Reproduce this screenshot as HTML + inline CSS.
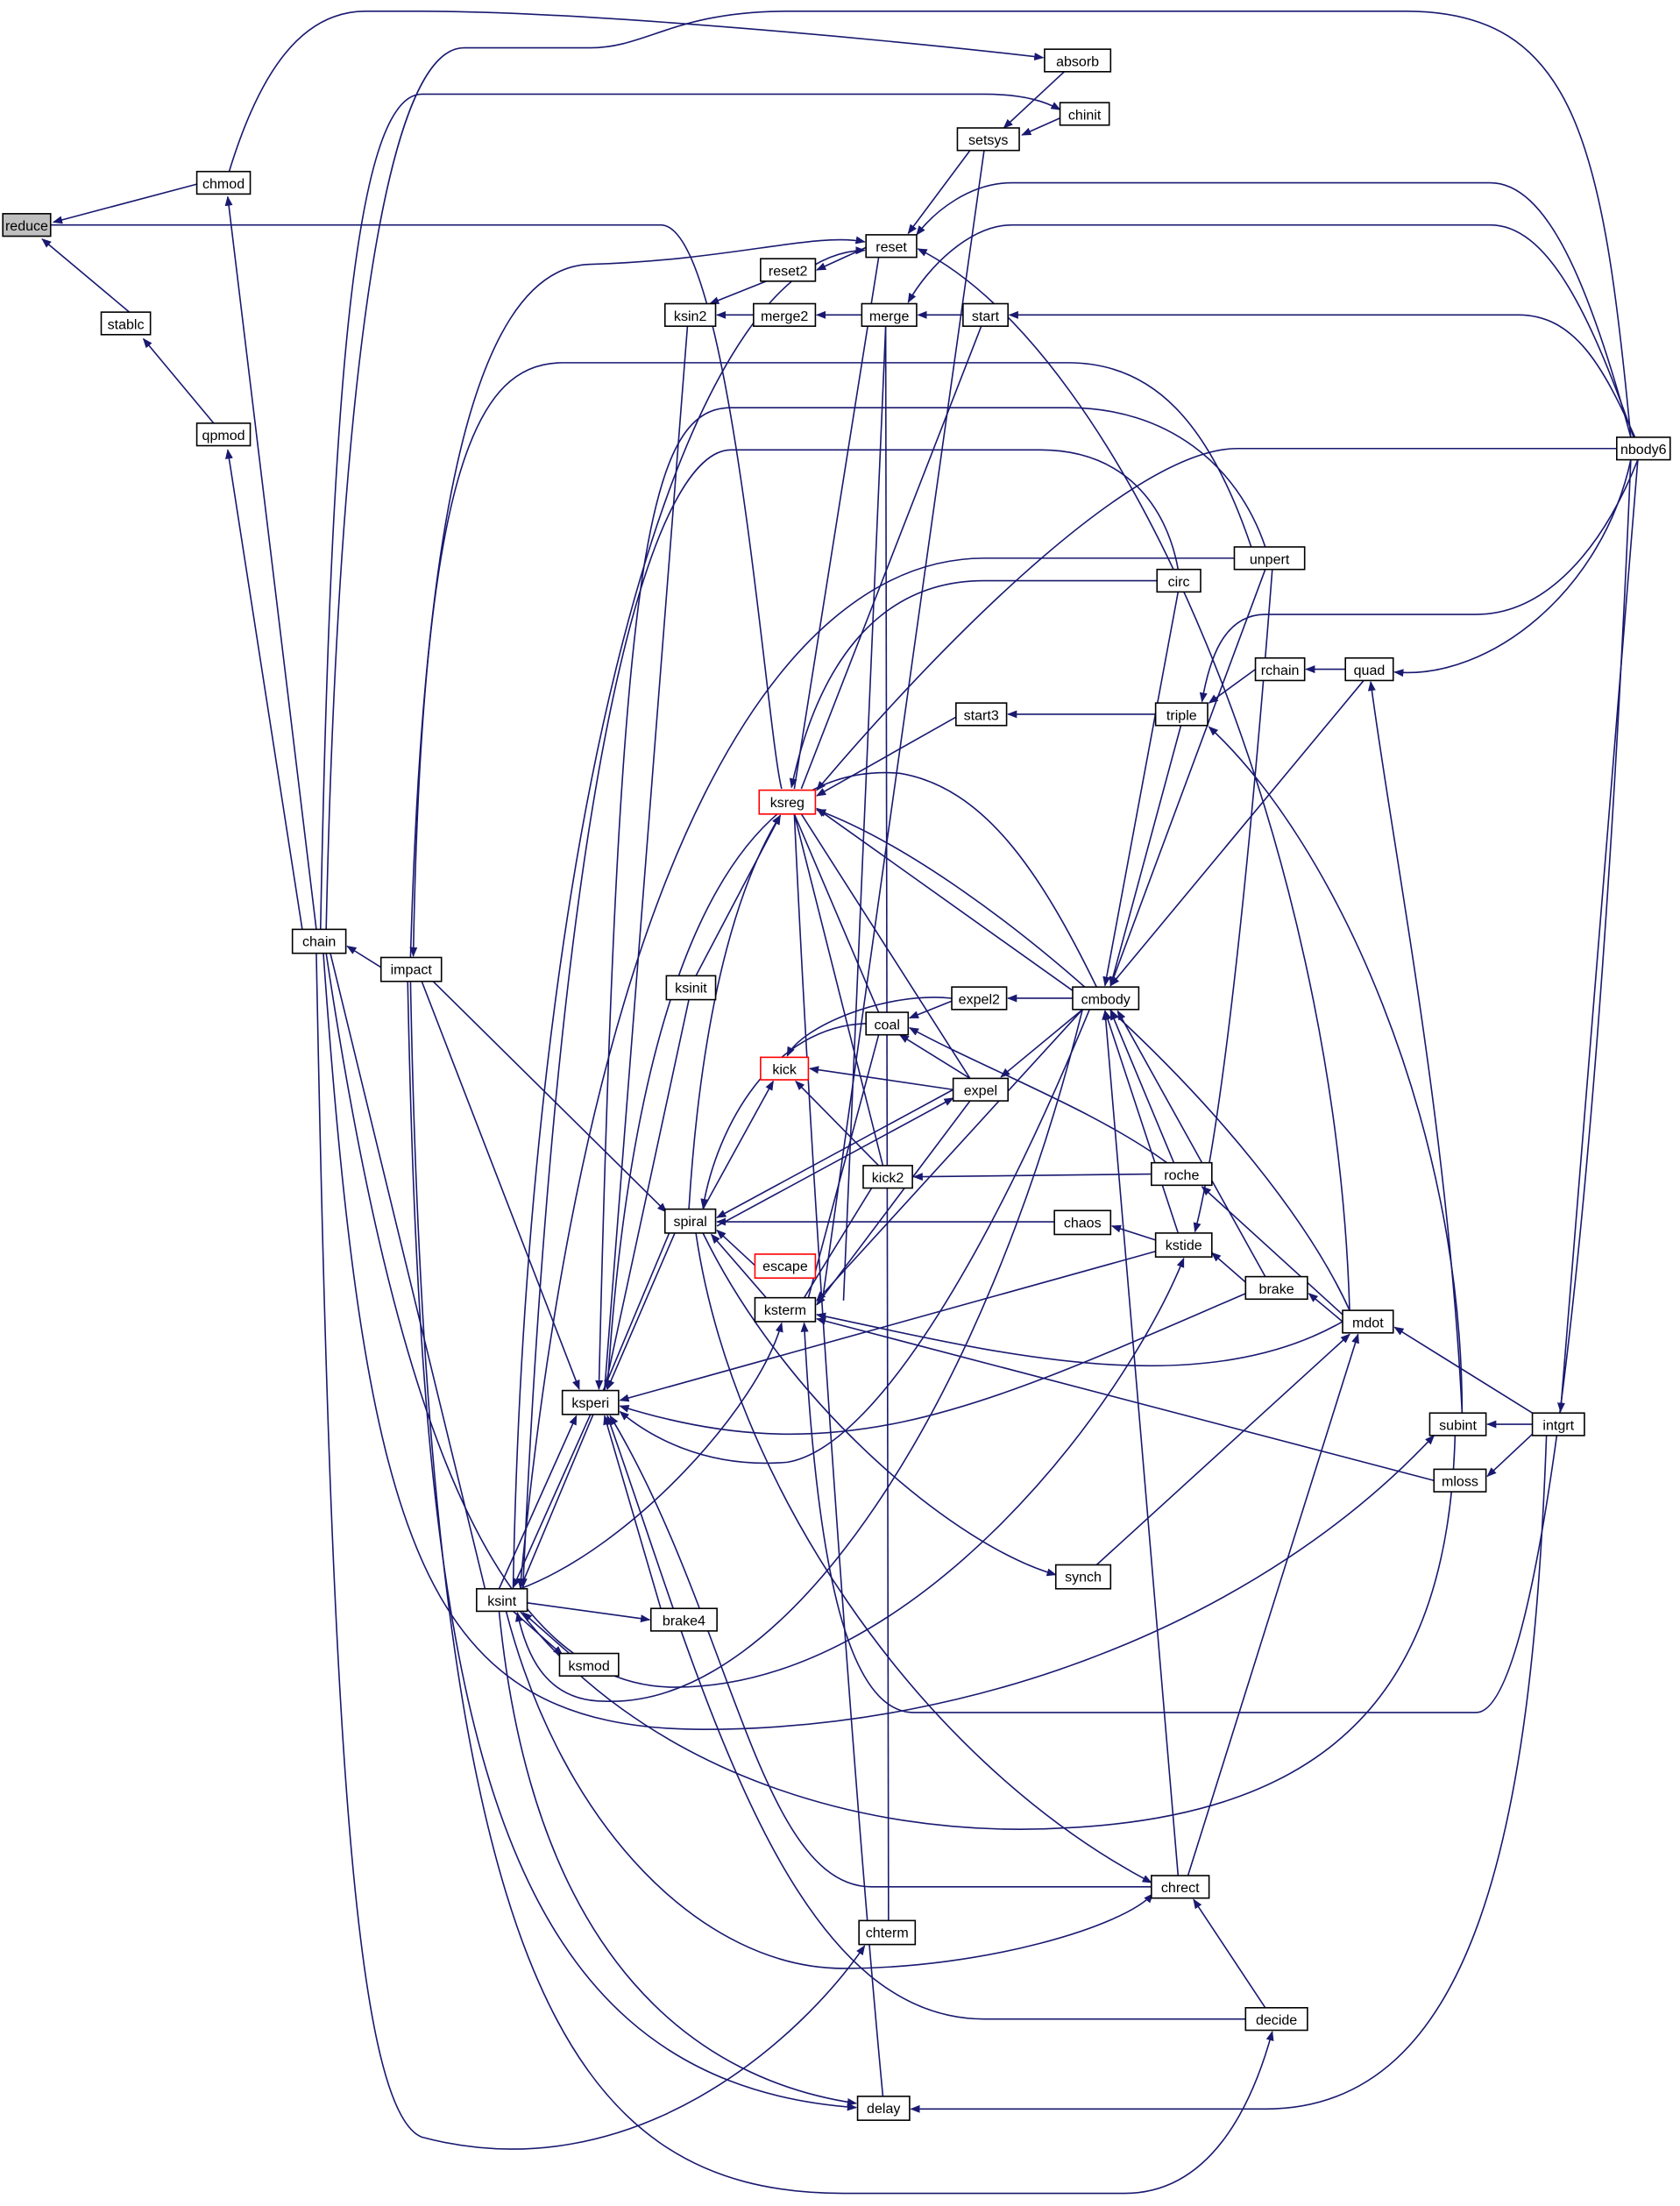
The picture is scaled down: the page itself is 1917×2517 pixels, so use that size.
<!DOCTYPE html>
<html><head><meta charset="utf-8"><style>
html,body{margin:0;padding:0;background:#fff;}
svg{display:block;}
text{font-family:"Liberation Sans",sans-serif;font-size:10px;text-anchor:middle;fill:#000;}
.e{fill:none;stroke:#191970;stroke-width:1;}
.n{fill:#fff;stroke:#000;stroke-width:1;}
</style></head><body>
<svg width="1917" height="2517" viewBox="0 0 1195 1569" preserveAspectRatio="none" xmlns="http://www.w3.org/2000/svg">
<defs><marker id="a" viewBox="0 0 10 10" refX="9" refY="5" markerWidth="7" markerHeight="7" orient="auto"><path d="M0,1 L10,5 L0,9 z" fill="#191970"/></marker></defs>
<g class="e" marker-end="url(#a)">
<path d="M140,131 L38,158"/>
<path d="M92,222 L30,170"/>
<path d="M152,301 L102,241"/>
<path d="M215,661 L162,320"/>
<path d="M225,661 L162,140"/>
<path d="M163,122 C185,50 215,8 260,8 L300,8 C420,8 650,30 742,41"/>
<path d="M757,51 L714,91"/>
<path d="M754,84 L727,96"/>
<path d="M228,661 C235,300 250,67 300,67 L700,67 C730,67 745,73 754,78"/>
<path d="M690,107 L646,166"/>
<path d="M1160,311 C1130,200 1100,130 1060,130 L720,130 C690,130 665,150 652,167"/>
<path d="M1162,311 C1130,220 1100,160 1060,160 L720,160 C690,160 660,190 646,215"/>
<path d="M1163,311 C1140,260 1120,224 1080,224 L718,224"/>
<path d="M685,224 L653,224"/>
<path d="M613,224 L581,224"/>
<path d="M536,224 L510,224"/>
<path d="M616,176 L581,192"/>
<path d="M545,200 L505,216"/>
<path d="M960,932 C950,600 800,250 653,177"/>
<path d="M292,681 C300,400 330,190 420,188 C520,185 580,165 615,172"/>
<path d="M365,1130 C375,600 480,180 615,178"/>
<path d="M890,389 C860,300 820,258 760,258 L400,258 C340,258 300,330 294,680"/>
<path d="M1150,319 L880,319 C800,319 650,480 581,562"/>
<path d="M1165,327 C1140,390 1100,437 1050,437 L900,437 C870,437 860,470 855,499"/>
<path d="M893,476 L860,500"/>
<path d="M957,476 L929,476"/>
<path d="M1160,327 C1140,420 1060,484 992,478"/>
<path d="M822,508 L717,508"/>
<path d="M680,510 L581,566"/>
<path d="M1040,1005 C1040,800 950,600 860,517"/>
<path d="M1040,1005 C1030,800 990,600 975,485"/>
<path d="M970,484 L790,701"/>
<path d="M840,516 L790,701"/>
<path d="M900,405 L790,701"/>
<path d="M905,405 C890,600 870,800 850,876"/>
<path d="M838,421 L786,701"/>
<path d="M765,706 L581,575"/>
<path d="M763,710 L717,710"/>
<path d="M677,712 L647,724"/>
<path d="M677,710 C630,705 570,730 560,751"/>
<path d="M678,775 L576,760"/>
<path d="M770,718 L712,766"/>
<path d="M690,767 L640,736"/>
<path d="M625,829 L566,769"/>
<path d="M819,835 L650,837"/>
<path d="M830,827 C780,790 700,760 647,731"/>
<path d="M835,827 L790,719"/>
<path d="M838,877 L786,719"/>
<path d="M900,908 L795,719"/>
<path d="M838,1334 C820,1100 800,900 786,719"/>
<path d="M960,932 C900,800 700,620 581,576"/>
<path d="M780,702 C740,620 700,560 640,550 C520,540 450,700 432,988"/>
<path d="M750,869 L510,869"/>
<path d="M822,882 L791,872"/>
<path d="M537,900 L510,875"/>
<path d="M545,923 L506,878"/>
<path d="M770,718 L581,925"/>
<path d="M690,783 L581,928"/>
<path d="M955,940 C850,1000 700,960 581,935"/>
<path d="M1020,1053 L581,938"/>
<path d="M822,890 L441,996"/>
<path d="M480,877 L432,988"/>
<path d="M300,690 L474,862"/>
<path d="M300,698 L412,988"/>
<path d="M271,688 L247,673"/>
<path d="M290,698 C300,1200 340,1480 609,1499"/>
<path d="M292,698 C305,1400 400,1560 600,1560 L800,1560 C860,1560 890,1500 905,1445"/>
<path d="M225,678 C235,1200 250,1500 300,1520 C450,1560 570,1450 615,1384"/>
<path d="M230,678 C260,1100 300,1230 500,1230 C700,1230 900,1150 1020,1021"/>
<path d="M232,678 C280,1000 350,1200 480,1200 C650,1200 800,1000 842,895"/>
<path d="M375,1140 L462,1152"/>
<path d="M470,1144 L430,1007"/>
<path d="M405,1176 L372,1147"/>
<path d="M365,1146 L400,1177"/>
<path d="M355,1130 L410,1007"/>
<path d="M420,1006 L365,1129"/>
<path d="M360,1146 C400,1300 500,1400 600,1400 C700,1400 800,1370 820,1347"/>
<path d="M355,1146 C380,1400 500,1480 609,1496"/>
<path d="M370,1130 C450,1100 540,1000 556,941"/>
<path d="M886,1436 L700,1436 C560,1436 500,1200 432,1007"/>
<path d="M819,1342 L620,1342 C540,1342 520,1150 434,1007"/>
<path d="M495,877 C520,1050 650,1250 819,1339"/>
<path d="M500,877 C560,1000 680,1100 751,1120"/>
<path d="M780,1113 L960,949"/>
<path d="M845,1334 L966,949"/>
<path d="M900,1428 L849,1351"/>
<path d="M1100,1021 C1090,1300 1050,1500 900,1500 L648,1500"/>
<path d="M1165,327 L1110,1004"/>
<path d="M1160,327 C1140,800 1100,1218 1050,1218 L650,1218 C600,1218 580,1100 572,941"/>
<path d="M1090,1013 L1058,1013"/>
<path d="M1090,1020 L1058,1050"/>
<path d="M1090,1005 L992,944"/>
<path d="M955,940 L931,920"/>
<path d="M886,912 L862,891"/>
<path d="M955,935 L855,844"/>
<path d="M886,920 C700,1000 600,1050 441,1000"/>
<path d="M678,775 L510,866"/>
<path d="M510,872 L678,781"/>
<path d="M616,728 C550,730 510,800 500,859"/>
<path d="M500,860 L550,769"/>
<path d="M490,860 C500,700 530,620 555,580"/>
<path d="M495,694 L555,580"/>
<path d="M770,718 C700,1000 560,1215 430,1210 C390,1210 375,1180 368,1147"/>
<path d="M775,718 C700,900 620,1030 560,1040 C500,1045 460,1020 441,1004"/>
<path d="M823,413 L700,413 C620,413 580,480 563,560"/>
<path d="M878,397 L700,397 C560,397 420,600 370,1129"/>
<path d="M900,389 C880,330 830,290 760,290 L520,290 C460,290 440,400 426,988"/>
<path d="M838,405 C830,360 800,320 740,320 L520,320 C470,320 400,500 372,1129"/>
</g>
<g class="e">
<path d="M36,160 L470,160 C520,160 545,520 556,561"/>
<path d="M700,107 L585,925"/>
<path d="M1160,311 C1140,100 1120,8 1000,8 L560,8 C480,8 460,34 420,34 L330,34 C270,34 240,300 232,661"/>
<path d="M489,232 L430,989"/>
<path d="M625,183 L565,561"/>
<path d="M630,232 L600,925"/>
<path d="M698,232 L570,561"/>
<path d="M565,579 C580,900 610,1300 628,1491"/>
<path d="M632,1366 L630,232"/>
<path d="M625,736 L575,923"/>
<path d="M620,845 L572,923"/>
<path d="M628,829 L565,579"/>
<path d="M625,720 L565,579"/>
<path d="M690,767 L570,579"/>
<path d="M490,711 L430,989"/>
<path d="M476,877 L370,1130"/>
<path d="M235,678 L345,1130"/>
<path d="M1035,1021 C1030,1200 950,1290 760,1300 C600,1310 450,1250 370,1146"/>
</g>
<g>
<rect class="n" x="2" y="152" width="34" height="16" style="fill:#bfbfbf"/><text x="19" y="164">reduce</text>
<rect class="n" x="140" y="122" width="38" height="16"/><text x="159" y="134">chmod</text>
<rect class="n" x="72" y="222" width="35" height="16"/><text x="89.5" y="234">stablc</text>
<rect class="n" x="140" y="301" width="38" height="16"/><text x="159" y="313">qpmod</text>
<rect class="n" x="208" y="661" width="38" height="17"/><text x="227" y="673">chain</text>
<rect class="n" x="271" y="681" width="43" height="17"/><text x="292.5" y="693">impact</text>
<rect class="n" x="743" y="35" width="47" height="16"/><text x="766.5" y="47">absorb</text>
<rect class="n" x="754" y="73" width="35" height="16"/><text x="771.5" y="85">chinit</text>
<rect class="n" x="681" y="91" width="44" height="16"/><text x="703" y="103">setsys</text>
<rect class="n" x="616" y="167" width="36" height="16"/><text x="634" y="179">reset</text>
<rect class="n" x="541" y="184" width="39" height="16"/><text x="560.5" y="196">reset2</text>
<rect class="n" x="473" y="216" width="36" height="16"/><text x="491" y="228">ksin2</text>
<rect class="n" x="536" y="216" width="44" height="16"/><text x="558" y="228">merge2</text>
<rect class="n" x="613" y="216" width="39" height="16"/><text x="632.5" y="228">merge</text>
<rect class="n" x="685" y="216" width="32" height="16"/><text x="701" y="228">start</text>
<rect class="n" x="1150" y="311" width="38" height="16"/><text x="1169" y="323">nbody6</text>
<rect class="n" x="878" y="389" width="50" height="16"/><text x="903" y="401">unpert</text>
<rect class="n" x="823" y="405" width="31" height="16"/><text x="838.5" y="417">circ</text>
<rect class="n" x="893" y="468" width="35" height="16"/><text x="910.5" y="480">rchain</text>
<rect class="n" x="957" y="468" width="34" height="16"/><text x="974" y="480">quad</text>
<rect class="n" x="822" y="500" width="37" height="16"/><text x="840.5" y="512">triple</text>
<rect class="n" x="680" y="500" width="36" height="16"/><text x="698" y="512">start3</text>
<rect class="n" x="540" y="562" width="40" height="17" style="stroke:#f00"/><text x="560" y="574">ksreg</text>
<rect class="n" x="474" y="694" width="35" height="17"/><text x="491.5" y="706">ksinit</text>
<rect class="n" x="677" y="702" width="39" height="16"/><text x="696.5" y="714">expel2</text>
<rect class="n" x="763" y="702" width="47" height="16"/><text x="786.5" y="714">cmbody</text>
<rect class="n" x="616" y="720" width="30" height="16"/><text x="631" y="732">coal</text>
<rect class="n" x="541" y="752" width="34" height="16" style="stroke:#f00"/><text x="558" y="764">kick</text>
<rect class="n" x="678" y="767" width="39" height="16"/><text x="697.5" y="779">expel</text>
<rect class="n" x="614" y="829" width="35" height="16"/><text x="631.5" y="841">kick2</text>
<rect class="n" x="819" y="827" width="43" height="16"/><text x="840.5" y="839">roche</text>
<rect class="n" x="473" y="860" width="36" height="17"/><text x="491" y="872">spiral</text>
<rect class="n" x="750" y="861" width="40" height="17"/><text x="770" y="873">chaos</text>
<rect class="n" x="537" y="892" width="43" height="17" style="stroke:#f00"/><text x="558.5" y="904">escape</text>
<rect class="n" x="822" y="877" width="40" height="17"/><text x="842" y="889">kstide</text>
<rect class="n" x="537" y="923" width="43" height="17"/><text x="558.5" y="935">ksterm</text>
<rect class="n" x="886" y="908" width="44" height="16"/><text x="908" y="920">brake</text>
<rect class="n" x="955" y="932" width="36" height="16"/><text x="973" y="944">mdot</text>
<rect class="n" x="400" y="989" width="40" height="17"/><text x="420" y="1001">ksperi</text>
<rect class="n" x="1017" y="1005" width="40" height="16"/><text x="1037" y="1017">subint</text>
<rect class="n" x="1090" y="1005" width="37" height="16"/><text x="1108.5" y="1017">intgrt</text>
<rect class="n" x="1020" y="1045" width="37" height="16"/><text x="1038.5" y="1057">mloss</text>
<rect class="n" x="339" y="1130" width="36" height="16"/><text x="357" y="1142">ksint</text>
<rect class="n" x="463" y="1144" width="47" height="16"/><text x="486.5" y="1156">brake4</text>
<rect class="n" x="398" y="1176" width="42" height="16"/><text x="419" y="1188">ksmod</text>
<rect class="n" x="751" y="1113" width="39" height="17"/><text x="770.5" y="1125">synch</text>
<rect class="n" x="819" y="1334" width="41" height="16"/><text x="839.5" y="1346">chrect</text>
<rect class="n" x="611" y="1366" width="40" height="17"/><text x="631" y="1378">chterm</text>
<rect class="n" x="886" y="1428" width="44" height="16"/><text x="908" y="1440">decide</text>
<rect class="n" x="610" y="1491" width="37" height="17"/><text x="628.5" y="1503">delay</text>
</g>
</svg>
</body></html>
